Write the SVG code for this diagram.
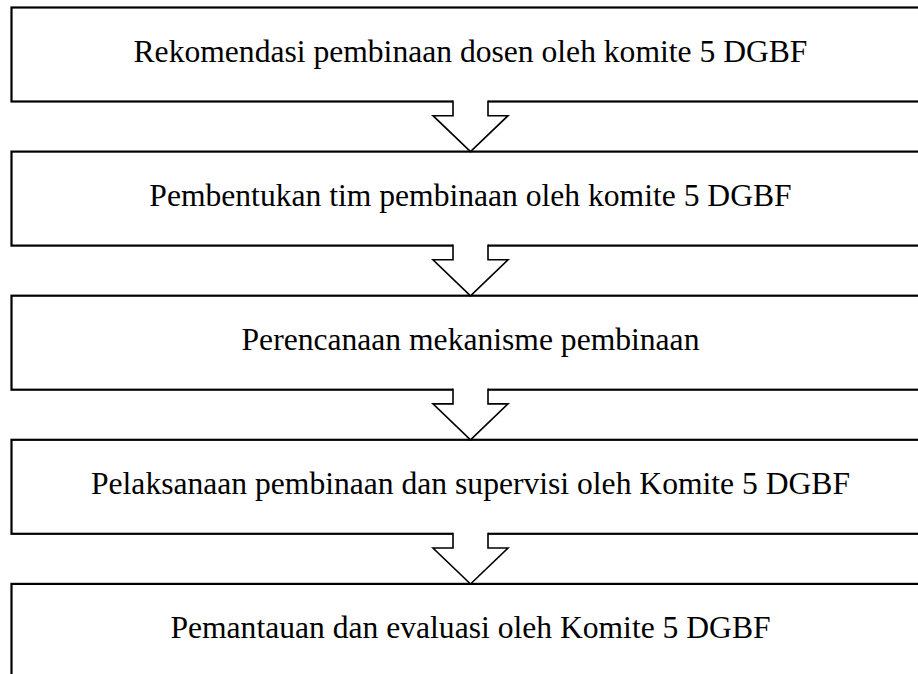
<svg xmlns="http://www.w3.org/2000/svg" width="918" height="674" viewBox="0 0 918 674">
<defs>
<style>
.box{fill:#fff;stroke:#000;stroke-width:2.2}
.lbl{font-family:"Liberation Serif","Times New Roman",serif;font-size:31.6px;fill:#000;text-anchor:middle}
.arr{fill:#fff;stroke:#000;stroke-width:1.6;stroke-linejoin:miter}
</style>
<g id="blockArrow">
<rect x="0" y="-2" width="35" height="4" fill="#fff"/>
<polyline class="arr" points="0,-1.1 0,14.2 -20,14.2 17.5,50.2 55,14.2 35,14.2 35,-1.1"/>
</g>
</defs>
<rect width="918" height="674" fill="#fff"/>
<g id="node1"><rect class="box" x="11.5" y="7.5" width="918" height="94"/><text class="lbl" x="470.5" y="62">Rekomendasi pembinaan dosen oleh komite 5 DGBF</text></g>
<g id="node2"><rect class="box" x="11.5" y="151.6" width="918" height="94"/><text class="lbl" x="470.5" y="206.1">Pembentukan tim pembinaan oleh komite 5 DGBF</text></g>
<g id="node3"><rect class="box" x="11.5" y="295.7" width="918" height="94"/><text class="lbl" x="470.5" y="350.2">Perencanaan mekanisme pembinaan</text></g>
<g id="node4"><rect class="box" x="11.5" y="439.8" width="918" height="94"/><text class="lbl" x="470.5" y="494.3">Pelaksanaan pembinaan dan supervisi oleh Komite 5 DGBF</text></g>
<g id="node5"><rect class="box" x="11.5" y="583.9" width="918" height="94"/><text class="lbl" x="470.5" y="638.4">Pemantauan dan evaluasi oleh Komite 5 DGBF</text></g>
<g id="connectors">
<use href="#blockArrow" x="453" y="101.5"/>
<use href="#blockArrow" x="453" y="245.6"/>
<use href="#blockArrow" x="453" y="389.7"/>
<use href="#blockArrow" x="453" y="533.8"/>
</g>
</svg>
